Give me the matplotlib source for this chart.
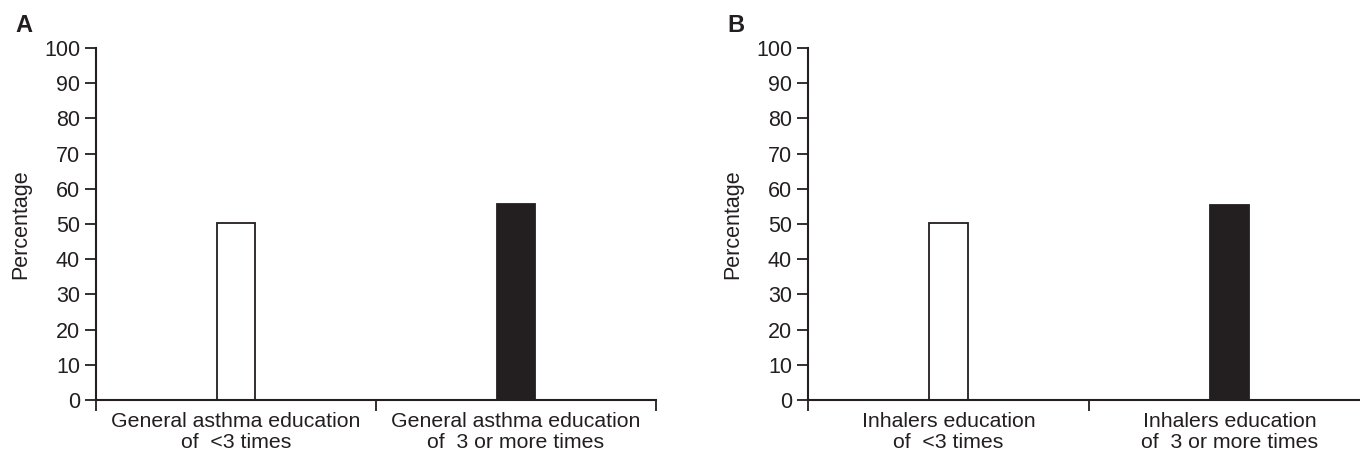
"""
Two-panel bar chart: percentage by number of education sessions
"""

import matplotlib
matplotlib.use("Agg")
import matplotlib.pyplot as plt

plt.rcParams["font.family"] = ["Liberation Sans", "DejaVu Sans"]

#data
labels_a = ["General asthma education\nof  <3 times", "General asthma education\nof  3 or more times"]
values_a = [50.2, 55.7]
labels_b = ["Inhalers education\nof  <3 times", "Inhalers education\nof  3 or more times"]
values_b = [50.2, 55.4]
panels = ["A", "B"]
yticks = list(range(0, 101, 10))

ink = "#231f20"
fig = plt.figure(figsize=(13.6, 4.55), dpi=100)

#axes positions in figure fractions (panel B runs off the right edge like the original)
positions = [[96/1360, 55/455, 560/1360, 352/455],
             [808/1360, 55/455, 562/1360, 352/455]]

for pos, letter, labels, values in zip(positions, panels, [labels_a, labels_b], [values_a, values_b]):
    ax = fig.add_axes(pos)
    x = list(range(len(values)))
    ax.bar(x, values, width=0.136, color=["white", ink], edgecolor=ink, linewidth=1.3)
    ax.set_xlim(-0.5, 1.5)
    ax.set_ylim(0, 100)
    ax.set_yticks(yticks)
    ax.set_xticks([-0.5, 0.5, 1.5])
    ax.set_xticklabels([])
    ax.set_xticks(x, minor=True)
    ax.set_xticklabels(labels, minor=True, fontsize=15.3, linespacing=1.12)
    ax.tick_params(axis="x", which="minor", length=0, pad=8.5)
    ax.tick_params(axis="x", which="major", length=8, width=1.3, color=ink, direction="out")
    ax.tick_params(axis="y", length=8, width=1.3, color=ink, labelsize=15.5, pad=3.5, labelcolor=ink)
    for tl in ax.get_xticklabels(minor=True):
        tl.set_color(ink)
    for side in ["top", "right"]:
        ax.spines[side].set_visible(False)
    for side in ["left", "bottom"]:
        ax.spines[side].set_linewidth(1.5)
        ax.spines[side].set_color(ink)
    ax.set_ylabel("Percentage", fontsize=15.5, color=ink, labelpad=9)
    fig.text(pos[0] - 81/1360, 1 - 32/455, letter, fontsize=17, fontweight="bold", color=ink)

fig.savefig("out.png", dpi=100)
